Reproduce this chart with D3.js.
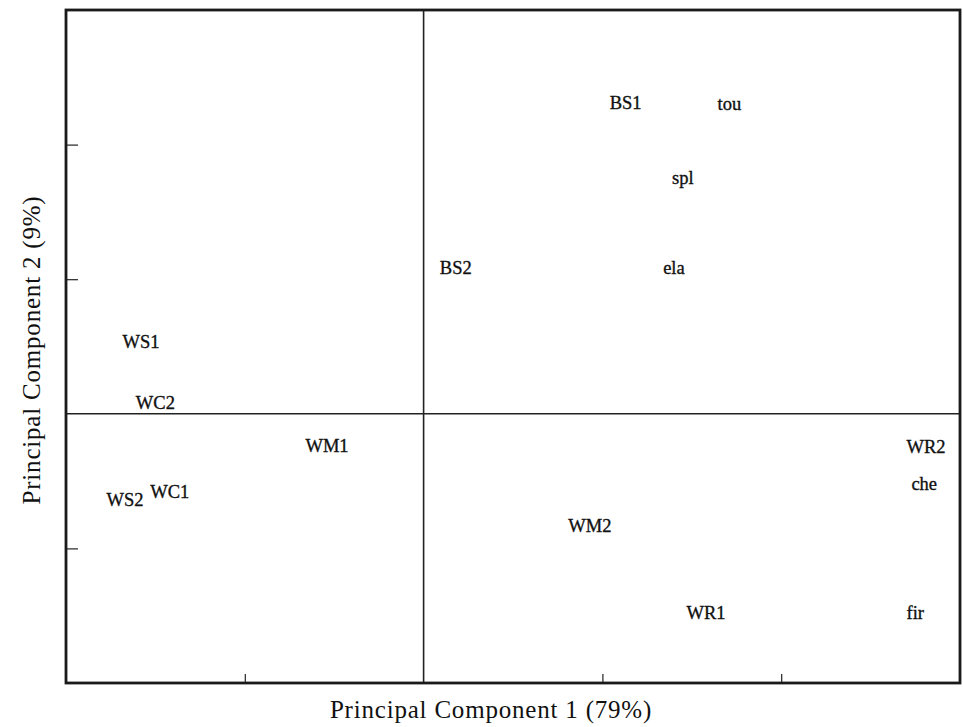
<!DOCTYPE html>
<html>
<head>
<meta charset="utf-8">
<script src="https://cdn.jsdelivr.net/npm/d3@7"></script>
<style>
  html, body { margin: 0; padding: 0; background: #fff; }
  svg { display: block; }
  text { font-family: "Liberation Serif", "Times New Roman", serif; fill: #111; }
</style>
</head>
<body>
<svg id="chart" width="963" height="727"></svg>
<script>
// PCA biplot: sample scores and species labels on the first two components
const labels = ["BS1", "tou", "spl", "ela", "BS2", "WS1", "WC2", "WM1", "WS2", "WC1", "WR2", "che", "WM2", "WR1", "fir"];
const pc1    = [1.13, 1.71, 1.45, 1.40, 0.18, -1.58, -1.50, -0.54, -1.67, -1.42, 2.81, 2.80, 0.93, 1.58, 2.75];
const pc2    = [2.31, 2.30, 1.75, 1.08, 1.08, 0.53, 0.08, -0.24, -0.64, -0.58, -0.25, -0.52, -0.83, -1.48, -1.48];

const xDomain = [-2, 3];
const yDomain = [-2, 3];
const xTicks = [-1, 1, 2];
const yTicks = [-1, 1, 2];

const xTitle = "Principal Component 1 (79%)";
const yTitle = "Principal Component 2 (9%)";

const svg = d3.select("#chart");
const frame = { left: 66, right: 960, top: 10, bottom: 683 };

const x = d3.scaleLinear().domain(xDomain).range([frame.left, frame.right]);
const y = d3.scaleLinear().domain(yDomain).range([frame.bottom, frame.top]);

// inward ticks, no labels
svg.append("g")
  .attr("transform", `translate(0,${frame.bottom})`)
  .call(d3.axisBottom(x).tickValues(xTicks).tickSizeInner(-9).tickSizeOuter(0).tickFormat(""))
  .call(g => g.select(".domain").remove())
  .call(g => g.selectAll("line").attr("stroke", "#222").attr("stroke-width", 1.2));

svg.append("g")
  .attr("transform", `translate(${frame.left},0)`)
  .call(d3.axisLeft(y).tickValues(yTicks).tickSizeInner(-12).tickSizeOuter(0).tickFormat(""))
  .call(g => g.select(".domain").remove())
  .call(g => g.selectAll("line").attr("stroke", "#222").attr("stroke-width", 1.2));

// zero lines dividing the quadrants
svg.append("line")
  .attr("x1", x(0)).attr("x2", x(0))
  .attr("y1", frame.top).attr("y2", frame.bottom)
  .attr("stroke", "#222").attr("stroke-width", 1.6);
svg.append("line")
  .attr("x1", frame.left).attr("x2", frame.right)
  .attr("y1", y(0)).attr("y2", y(0))
  .attr("stroke", "#222").attr("stroke-width", 1.6);

// plot frame
svg.append("rect")
  .attr("x", frame.left).attr("y", frame.top)
  .attr("width", frame.right - frame.left).attr("height", frame.bottom - frame.top)
  .attr("fill", "none").attr("stroke", "#1a1a1a").attr("stroke-width", 2.8);

// point labels
svg.append("g")
  .selectAll("text")
  .data(labels)
  .join("text")
  .attr("x", (d, i) => x(pc1[i]))
  .attr("y", (d, i) => y(pc2[i]))
  .attr("text-anchor", "middle")
  .attr("dominant-baseline", "central")
  .attr("font-size", 18.5)
  .attr("stroke", "#111").attr("stroke-width", 0.35)
  .text(d => d);

// axis titles
svg.append("text")
  .attr("x", 491).attr("y", 718)
  .attr("text-anchor", "middle")
  .attr("font-size", 25)
  .attr("letter-spacing", 0.8)
  .text(xTitle);

svg.append("text")
  .attr("transform", `translate(40,350) rotate(-90)`)
  .attr("text-anchor", "middle")
  .attr("font-size", 25)
  .attr("letter-spacing", 0.8)
  .text(yTitle);
</script>
</body>
</html>
